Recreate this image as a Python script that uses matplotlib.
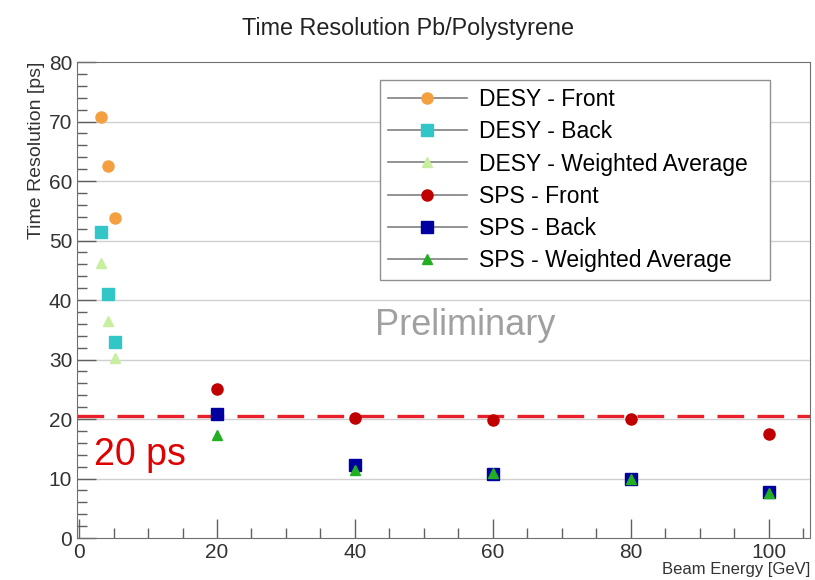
import matplotlib
matplotlib.use("Agg")
import matplotlib.pyplot as plt
from matplotlib.ticker import MultipleLocator

plt.rcParams['font.family'] = ['Liberation Sans', 'DejaVu Sans']

# DESY beam test
desy_energy = [3.2, 4.2, 5.2]
desy_front = [70.8, 62.5, 53.8]
desy_back = [51.5, 41.0, 33.0]
desy_wavg = [46.2, 36.5, 30.3]

# SPS beam test
sps_energy = [20, 40, 60, 80, 100]
sps_front = [25.0, 20.2, 19.8, 20.0, 17.4]
sps_back = [20.8, 12.3, 10.8, 10.0, 7.8]
sps_wavg = [17.3, 11.5, 11.0, 10.0, 7.5]

target = 20.5

fig = plt.figure(figsize=(8.15, 5.8), dpi=100)
ax = fig.add_axes([0.0945, 0.0724, 0.8995, 0.8206])

ax.set_xlim(-0.3, 106)
ax.set_ylim(0, 80)

for y in range(10, 80, 10):
    ax.axhline(y, color='#d0d0d0', lw=1.0, zorder=0)

ax.axhline(target, color='#e8202a', lw=2.4, dashes=(8, 4), zorder=1)

series = [
    (desy_energy, desy_front, 'o', '#f5a040', 8, 'DESY - Front'),
    (desy_energy, desy_back, 's', '#33c6c6', 8, 'DESY - Back'),
    (desy_energy, desy_wavg, '^', '#c8eea0', 7.5, 'DESY - Weighted Average'),
    (sps_energy, sps_front, 'o', '#c00000', 8, 'SPS - Front'),
    (sps_energy, sps_back, 's', '#0000a0', 8, 'SPS - Back'),
    (sps_energy, sps_wavg, '^', '#22b022', 7.5, 'SPS - Weighted Average'),
]
handles = []
for xs, ys, m, c, ms, lab in series:
    ax.plot(xs, ys, linestyle='none', marker=m, color=c, ms=ms, zorder=3)
    h, = ax.plot([], [], linestyle='-', color='#808080', lw=1.2,
                 marker=m, mfc=c, mec=c, ms=ms, label=lab)
    handles.append(h)

leg = ax.legend(handles=handles, loc='upper left',
                bbox_to_anchor=(0.413, 0.546, 0.532, 0.416), mode='expand',
                borderaxespad=0, fontsize=16.5, frameon=True, fancybox=False,
                framealpha=1, edgecolor='#909090', handlelength=3.45,
                labelspacing=0.4, borderpad=0.35, handletextpad=0.55)
leg.get_frame().set_linewidth(1.0)

ax.text(56, 35.7, 'Preliminary', color='#a0a0a0', fontsize=26,
        ha='center', va='center')
ax.text(2.2, 14.0, '20 ps', color='#e00000', fontsize=27,
        ha='left', va='center')

ax.xaxis.set_major_locator(MultipleLocator(20))
ax.xaxis.set_minor_locator(MultipleLocator(5))
ax.yaxis.set_major_locator(MultipleLocator(10))
ax.yaxis.set_minor_locator(MultipleLocator(2))
ax.tick_params(which='both', direction='in', colors='#606060',
               labelcolor='#333333', labelsize=15)
ax.tick_params(which='major', length=14, width=1.0)
ax.tick_params(which='minor', length=7, width=1.0)
for s in ax.spines.values():
    s.set_color('#707070')

ax.set_xlabel('Beam Energy [GeV]', fontsize=12, color='#333333', loc='right', labelpad=0)
ax.set_ylabel('Time Resolution [ps]', fontsize=14, color='#333333', loc='top', labelpad=3)
fig.suptitle('Time Resolution Pb/Polystyrene', fontsize=16.8, color='#222222', y=0.97)

fig.savefig('out.png', dpi=100)
